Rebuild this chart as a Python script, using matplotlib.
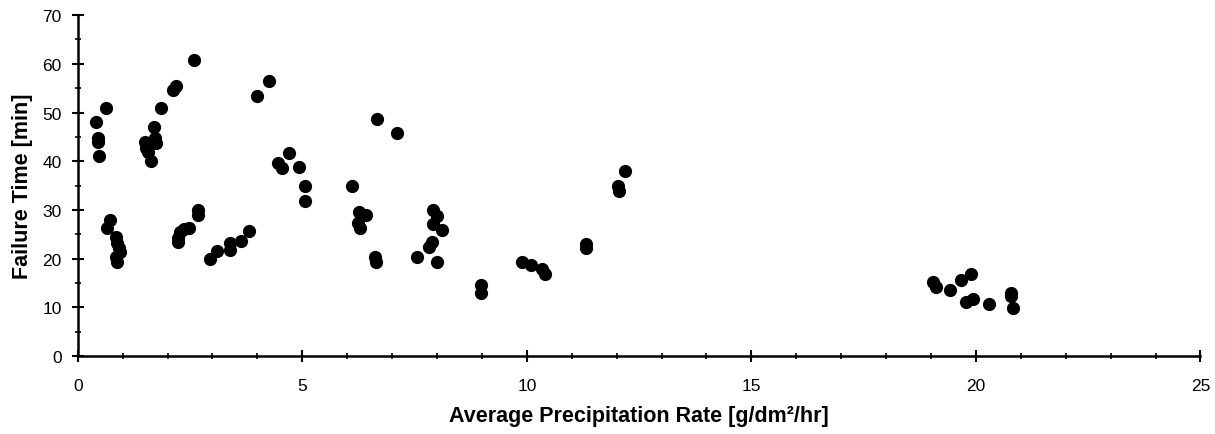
import matplotlib
matplotlib.use("Agg")
import matplotlib.pyplot as plt
from matplotlib.ticker import MultipleLocator

# average precipitation rate [g/dm2/hr]
rate = [
    0.40, 0.45, 0.45, 0.47, 0.62,
    0.71, 0.66, 0.85, 0.88, 0.92, 0.95, 0.86, 0.88,
    1.49, 1.53, 1.57, 1.62, 1.70, 1.74, 1.72, 1.86,
    2.11, 2.18, 2.59,
    2.68, 2.68, 2.48, 2.36, 2.27, 2.23, 2.23,
    2.95, 3.09, 3.40, 3.40, 3.63, 3.81,
    4.00, 4.25, 4.71, 4.46, 4.54, 4.92, 5.06, 5.07,
    6.67, 7.11, 6.10, 6.27, 6.41, 6.24, 6.28, 6.63, 6.65,
    7.56, 7.91, 7.99, 7.91, 8.10, 7.88, 7.82, 8.00,
    8.98, 8.98, 9.90, 10.09, 10.33, 10.40,
    11.31, 11.31, 12.03, 12.06, 12.18,
    19.05, 19.12, 19.43, 19.66, 19.90, 19.78, 19.94, 20.30,
    20.79, 20.79, 20.82,
]

# failure time [min]
failure = [
    48.0, 44.7, 43.9, 41.0, 50.9,
    28.0, 26.4, 24.4, 23.3, 22.1, 21.3, 20.3, 19.4,
    44.0, 42.8, 41.8, 40.1, 47.0, 43.7, 44.8, 50.9,
    54.7, 55.5, 60.8,
    30.0, 29.0, 26.4, 26.1, 25.4, 24.3, 23.5,
    20.0, 21.6, 23.2, 21.8, 23.6, 25.7,
    53.3, 56.5, 41.7, 39.6, 38.7, 38.9, 35.0, 31.9,
    48.7, 45.8, 35.0, 29.6, 29.0, 27.4, 26.4, 20.4, 19.4,
    20.3, 30.0, 28.8, 27.1, 25.9, 23.5, 22.5, 19.4,
    14.6, 12.9, 19.4, 18.8, 17.8, 16.8,
    23.0, 22.2, 35.0, 33.8, 37.9,
    15.3, 14.1, 13.6, 15.7, 16.8, 11.2, 11.8, 10.7,
    12.9, 12.4, 9.8,
]

plt.rcParams['font.family'] = ['Liberation Sans', 'DejaVu Sans']

fig = plt.figure(figsize=(12.15, 4.35), dpi=100)
ax = fig.add_axes([0.064, 0.179, 0.924, 0.784])

ax.plot(rate, failure, 'o', color='black', markersize=8.5, linestyle='none')

ax.set_xlim(0, 25)
ax.set_ylim(0, 70)
ax.xaxis.set_major_locator(MultipleLocator(5))
ax.xaxis.set_minor_locator(MultipleLocator(1))
ax.yaxis.set_major_locator(MultipleLocator(10))
ax.yaxis.set_minor_locator(MultipleLocator(5))

for side in ['top', 'right']:
    ax.spines[side].set_visible(False)
for side in ['left', 'bottom']:
    ax.spines[side].set_linewidth(1.8)
    ax.spines[side].set_color('black')

ax.tick_params(which='major', direction='inout', length=9, width=1.5, labelsize=12.5)
ax.tick_params(which='minor', direction='inout', length=5, width=1.2)
ax.tick_params(axis='x', which='major', pad=11)
ax.tick_params(axis='y', which='major', pad=7)

ax.set_xlabel('Average Precipitation Rate [g/dm²/hr]', fontsize=15.5, fontweight='bold', labelpad=9)
ax.set_ylabel('Failure Time [min]', fontsize=15.5, fontweight='bold', labelpad=7)

fig.savefig('out.png', dpi=100)
